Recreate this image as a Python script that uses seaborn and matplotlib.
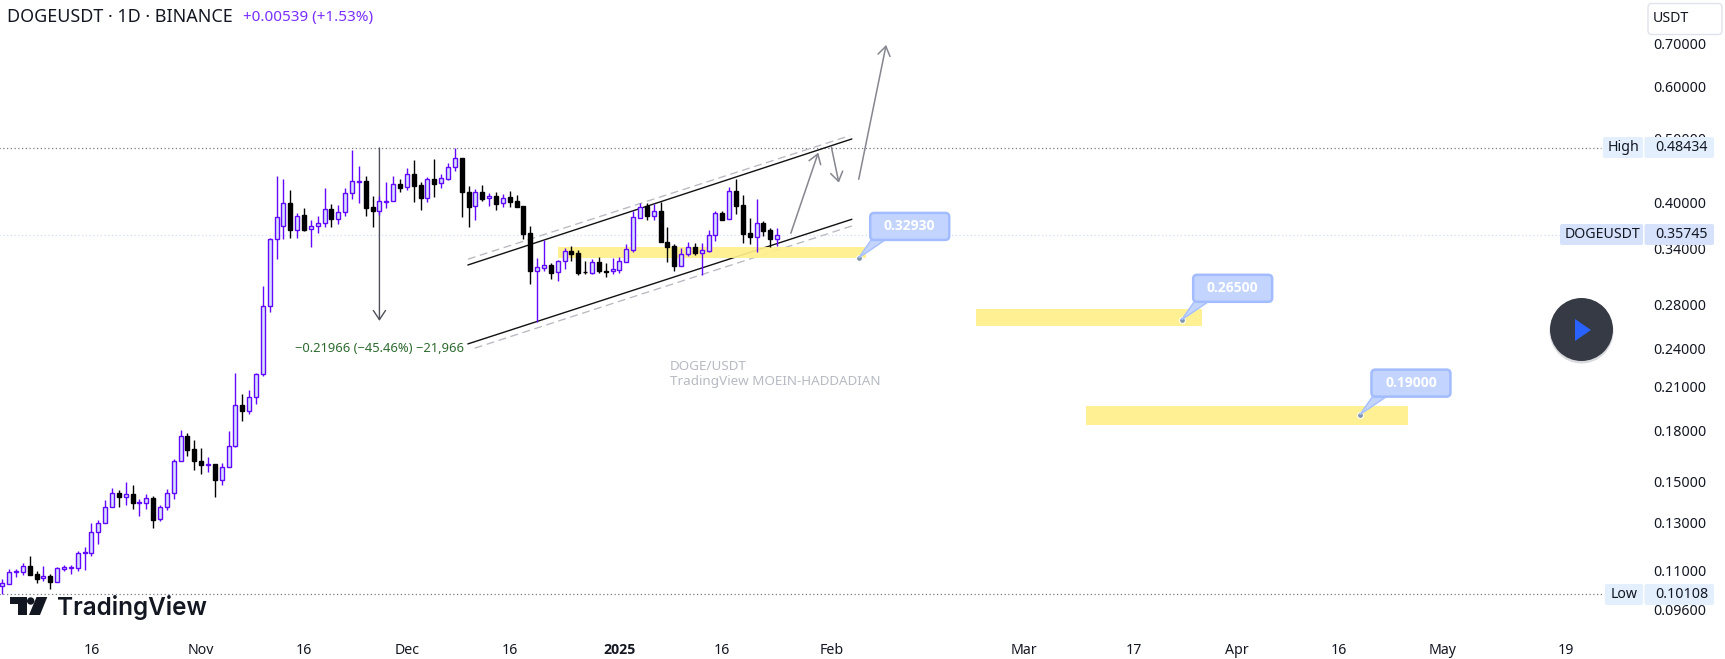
import numpy as np
import pandas as pd
import matplotlib
matplotlib.use("Agg")
import matplotlib.pyplot as plt
import seaborn as sns
from matplotlib.patches import Circle, FancyBboxPatch, Polygon

# daily DOGEUSDT candles
start_date = pd.Timestamp("2024-10-03")
opens = [.1043, .1050, .1093, .1092, .1116, .1085, .1069, .1079, .1057, .1107,
         .1111, .1111, .1168, .1171, .1257, .1298, .1373, .1442, .1423, .1437,
         .1395, .1395, .1417, .1316, .1373, .1441, .1614, .1761, .1682, .1614,
         .1594, .1596, .1513, .1579, .1699, .1964, .1925, .2019, .2190, .2780,
         .3517, .3677, .3989, .3630, .3825, .3639, .3681, .3719, .3908, .3780,
         .3868, .4133, .4300, .4315, .3935, .3876, .4008, .4018, .4265, .4219,
         .4423, .4249, .4070, .4341, .4280, .4351, .4527, .4673, .4148, .3948,
         .4148, .4065, .4090, .3989, .4075, .4018, .3953, .3590, .3140, .3183,
         .3209, .3129, .3255, .3375, .3352, .3136, .3118, .3244, .3143, .3143,
         .3161, .3251, .3390, .3794, .3953, .3821, .3881, .3480, .3431, .3205,
         .3333, .3419, .3356, .3378, .3565, .3853, .3772, .4162, .3962, .3590,
         .3549, .3721, .3628, .3524]
highs = [.1066, .1105, .1105, .1130, .1157, .1097, .1118, .1086, .1112, .1120,
         .1122, .1178, .1194, .1298, .1312, .1406, .1469, .1457, .1500, .1484,
         .1414, .1439, .1427, .1382, .1464, .1625, .1801, .1782, .1738, .1690,
         .1638, .1597, .1601, .1796, .2199, .2042, .2072, .2196, .2984, .3530,
         .4392, .4346, .4181, .3852, .3921, .3762, .3816, .4205, .3975, .3966,
         .4205, .4811, .4549, .4392, .4095, .4086, .4300, .4392, .4341, .4511,
         .4641, .4300, .4372, .4657, .4418, .4592, .4843, .4673, .4239, .4191,
         .4254, .4133, .4153, .4124, .4167, .4109, .3953, .3685, .3291, .3505,
         .3240, .3270, .3406, .3435, .3382, .3259, .3282, .3302, .3232, .3294,
         .3302, .3460, .3887, .3990, .3995, .3972, .4000, .3672, .3452, .3415,
         .3480, .3464, .3472, .3633, .3881, .3886, .4220, .4349, .4109, .3785,
         .4045, .3751, .3654, .3654]
lows = [.1013, .1050, .1076, .1083, .1083, .1053, .1061, .1031, .1057, .1096,
        .1086, .1096, .1102, .1157, .1206, .1298, .1373, .1375, .1384, .1365,
        .1333, .1365, .1275, .1310, .1360, .1414, .1614, .1644, .1565, .1544,
        .1554, .1424, .1485, .1579, .1693, .1858, .1903, .1973, .2172, .2728,
        .3283, .3525, .3537, .3537, .3613, .3416, .3588, .3672, .3664, .3703,
        .3821, .4056, .3998, .3821, .3664, .3830, .3930, .4018, .4153, .4172,
        .4013, .3890, .4013, .4080, .4210, .4326, .4474, .3807, .3664, .3767,
        .4027, .3953, .3890, .3939, .3939, .3935, .3520, .3006, .2632, .3150,
        .3060, .3042, .3169, .3259, .3096, .3107, .3114, .3125, .3075, .3107,
        .3125, .3251, .3367, .3785, .3768, .3764, .3476, .3244, .3150, .3205,
        .3310, .3329, .3103, .3367, .3500, .3764, .3772, .3844, .3472, .3460,
        .3367, .3557, .3423, .3431]
closes = [.1051, .1093, .1096, .1116, .1083, .1068, .1077, .1056, .1108, .1114,
          .1114, .1168, .1172, .1258, .1298, .1373, .1442, .1421, .1437, .1395,
          .1400, .1417, .1314, .1373, .1442, .1614, .1761, .1680, .1612, .1590,
          .1597, .1513, .1579, .1701, .1964, .1925, .2019, .2189, .2780, .3517,
          .3798, .3989, .3626, .3821, .3630, .3681, .3719, .3908, .3780, .3868,
          .4133, .4310, .4310, .3930, .3876, .4018, .4018, .4265, .4210, .4418,
          .4244, .4070, .4341, .4275, .4356, .4527, .4673, .4148, .3944, .4148,
          .4056, .4085, .3985, .4070, .4013, .3939, .3586, .3140, .3187, .3209,
          .3125, .3255, .3371, .3344, .3125, .3129, .3244, .3140, .3136, .3165,
          .3255, .3394, .3798, .3944, .3816, .3881, .3476, .3423, .3202, .3333,
          .3419, .3356, .3382, .3565, .3853, .3768, .4162, .3957, .3582, .3549,
          .3721, .3624, .3524, .3574]

# axis ticks
price_ticks = [.7, .6, .5, .4, .34, .28, .24, .21, .18, .15, .13, .11, .096]
tick_dates = ["2024-10-16", "2024-11-01", "2024-11-16", "2024-12-01", "2024-12-16",
              "2025-01-01", "2025-01-16", "2025-02-01", "2025-03-01", "2025-03-17",
              "2025-04-01", "2025-04-16", "2025-05-01", "2025-05-19"]
tick_labels = ["16", "Nov", "16", "Dec", "16", "2025", "16", "Feb", "Mar", "17", "Apr", "16", "May", "19"]

# horizontal levels
high_price = 0.48434
low_price = 0.10108
last_price = 0.35745

# drawings: bar number and price of both ends
upper_line = ([67.9, 123.9], [.3212, .4999])
lower_line = ([67.9, 123.9], [.2435, .3771])
upper_dash = ([67.9, 123.6], [.3278, .5057])
lower_dash = ([68.9, 124.5], [.2399, .3701])
drop_arrow = ([55, 55], [.4843, .2640])
path_arrows = [([115, 119], [.3591, .4764]),
               ([120.9, 122], [.4866, .4288]),
               ([124.9, 128.9], [.4340, .6953])]

# support zones: first bar, last bar, low, high
zone_starts = [81, 142, 158]
zone_ends = [126, 175, 205]
zone_lows = [.3293, .2597, .1833]
zone_highs = [.3422, .2754, .1961]

# target balloons
target_bars = [124.9, 172, 198]
target_prices = [.3293, .2650, .1900]
target_labels = ["0.32930", "0.26500", "0.19000"]

PURPLE = "#6208ff"
UP_FILL = "#d8e2ff"
TEXT = "#131722"
FIG_W, FIG_H = 1725, 659
AX_RIGHT, AX_BOTTOM = 1650, 632
FONT = "Noto Sans"

sns.set_style("white")
plt.rcParams["font.family"] = [FONT, "DejaVu Sans"]

df = pd.DataFrame({"bar": range(len(opens)), "open": opens, "high": highs, "low": lows, "close": closes})
df["direction"] = np.where(df["close"] >= df["open"], "up", "down")
df["top"] = df[["open", "close"]].max(axis=1)
df["bottom"] = df[["open", "close"]].min(axis=1)

fig = plt.figure(figsize=(FIG_W / 100, FIG_H / 100), dpi=100)
ax = fig.add_axes([0, 1 - AX_BOTTOM / FIG_H, AX_RIGHT / FIG_W, AX_BOTTOM / FIG_H])
ax.set_yscale("log")

# overlay in pixels for the price labels, the logo and the balloons
ov = fig.add_axes([0, 0, 1, 1], zorder=10)
ov.set_xlim(0, FIG_W)
ov.set_ylim(FIG_H, 0)
ov.axis("off")
ov.patch.set_alpha(0)

# wicks
wicks = df.melt(id_vars=["bar", "direction"], value_vars=["low", "high"], value_name="price")
sns.lineplot(data=wicks, x="bar", y="price", units="bar", estimator=None, hue="direction",
             palette={"up": PURPLE, "down": "black"}, linewidth=1.0, legend=False,
             ax=ax, zorder=4, solid_capstyle="butt")

# bodies
for direction, face, edge in [("up", UP_FILL, PURPLE), ("down", "black", "black")]:
    part = df[df["direction"] == direction]
    ax.bar(part["bar"], part["top"] - part["bottom"], bottom=part["bottom"], width=0.58,
           color=face, edgecolor=edge, linewidth=1.0, zorder=5)

# level lines
dotted = (0, (1, 2))
ax.plot([-1, 233.1], [high_price, high_price], color="#787b86", lw=0.9, ls=dotted, zorder=1)
ax.plot([-1, 233.5], [low_price, low_price], color="#787b86", lw=0.9, ls=dotted, zorder=1)
ax.plot([-1, 227.2], [last_price, last_price], color="#d3ddfb", lw=0.9, ls=dotted, zorder=1)

# channel
for xs, ys in [upper_line, lower_line]:
    ax.plot(xs, ys, color="#111111", lw=1.0, zorder=2)
for xs, ys in [upper_dash, lower_dash]:
    ax.plot(xs, ys, color="#b8bac2", lw=0.95, ls=(0, (6, 3.5)), zorder=2)

# yellow zones
for x0, x1, y0, y1 in zip(zone_starts, zone_ends, zone_lows, zone_highs):
    ax.fill_between([x0, x1], [y0, y0], [y1, y1], color="#fff08a", alpha=0.92, lw=0, zorder=3)

# arrows
arrow_head = "->,head_length=0.6,head_width=0.4"
ax.annotate("", xy=(drop_arrow[0][1], drop_arrow[1][1]), xytext=(drop_arrow[0][0], drop_arrow[1][0]),
            arrowprops=dict(arrowstyle=arrow_head, color="#4f505a", lw=1.0, shrinkA=0, shrinkB=0,
                            mutation_scale=11), zorder=3)
for xs, ys in path_arrows:
    ax.annotate("", xy=(xs[1], ys[1]), xytext=(xs[0], ys[0]),
                arrowprops=dict(arrowstyle=arrow_head, color="#85868f", lw=1.1, shrinkA=0, shrinkB=0,
                                mutation_scale=11), zorder=6)

# axes
ax.set_xlim(-0.335, 240.3)
ax.set_ylim(0.0886, 0.8141)
ax.minorticks_off()
ax.yaxis.tick_right()
ax.set_yticks(price_ticks)
ax.set_yticklabels([f"{p:.5f}" for p in price_ticks])
ax.yaxis.set_minor_locator(matplotlib.ticker.NullLocator())
ax.set_xticks([(pd.Timestamp(d) - start_date).days for d in tick_dates])
ax.set_xticklabels(tick_labels)
ax.tick_params(axis="y", length=0, pad=2.5, labelsize=10.2, labelcolor=TEXT)
ax.tick_params(axis="x", length=0, pad=8, labelsize=10.2, labelcolor=TEXT)
ax.set_xlabel("")
ax.set_ylabel("")
bold_tick = ax.get_xticklabels()[5]
bold_tick.set_family("Open Sans")
bold_tick.set_fontweight("bold")
for spine in ax.spines.values():
    spine.set_visible(False)

# target balloons
fig.canvas.draw()
for bar, price, label in zip(target_bars, target_prices, target_labels):
    tip_x, tip_y = ov.transData.inverted().transform(ax.transData.transform((bar, price)))
    left, top = tip_x + 11.5, tip_y - 45
    tail = Polygon([(tip_x, tip_y), (left + 1, top + 27), (left + 15, top + 27)], closed=True,
                   facecolor="#c3d4ff", edgecolor="#a6bfff", lw=1)
    ov.add_patch(tail)
    box = FancyBboxPatch((left, top), 79, 27, boxstyle="round,pad=0,rounding_size=4",
                         facecolor="#c3d4ff", edgecolor="#a3bcff", lw=1.8)
    ov.add_patch(box)
    ov.text(left + 39.5, top + 13, label, color="white", fontsize=10, fontweight="bold",
            family="Open Sans", ha="center", va="center")
dots = pd.DataFrame({"bar": target_bars, "price": target_prices})
sns.scatterplot(data=dots, x="bar", y="price", s=18, color="#7f95a8", edgecolor="white",
                linewidth=0.8, ax=ax, zorder=8, clip_on=False)
ax.set_xlabel("")
ax.set_ylabel("")

# right side price labels
def price_tag(left, right, top, bottom, color, text, text_x):
    ov.add_patch(FancyBboxPatch((left, top), right - left, bottom - top,
                                boxstyle="round,pad=0,rounding_size=2", facecolor=color, edgecolor="none"))
    ov.text(text_x, (top + bottom) / 2, text, color=TEXT, fontsize=10.2, ha="left", va="center")


price_tag(1603, 1643, 137, 158, "#e3effd", "High", 1607.5)
price_tag(1644.5, 1714, 137, 158, "#e3effd", f"{high_price:.5f}", 1655)
price_tag(1560, 1643, 224, 245, "#d6e2fb", "DOGEUSDT", 1565)
price_tag(1644.5, 1714, 224, 245, "#d6e2fb", f"{last_price:.5f}", 1655)
price_tag(1605, 1643, 584, 605, "#e3effd", "Low", 1610.5)
price_tag(1644.5, 1714, 584, 605, "#e3effd", f"{low_price:.5f}", 1655)

# currency button
ov.add_patch(FancyBboxPatch((1648, 3.5), 74, 31, boxstyle="round,pad=0,rounding_size=4",
                            facecolor="white", edgecolor="#e0e3eb", lw=1))
ov.text(1653, 19, "USDT", color=TEXT, fontsize=10.2, ha="left", va="center")

# play button
ov.add_patch(Circle((1581.5, 331.5), 32, facecolor="#d9dadd", edgecolor="none"))
ov.add_patch(Circle((1581.5, 329.5), 31.5, facecolor="#363a45", edgecolor="none"))
ov.add_patch(Polygon([(1575, 319), (1591, 330), (1575, 341)], closed=True, facecolor="#2962ff", edgecolor="none"))

# header
ov.text(7, 17, "DOGEUSDT · 1D · BINANCE", color=TEXT, fontsize=12.9, ha="left", va="center")
ov.text(243, 17, "+0.00539 (+1.53%)", color="#7a2eff", fontsize=11, ha="left", va="center")

# measure label and watermark
ov.text(464, 349, "−0.21966 (−45.46%) −21,966", color="#2d6a2f", fontsize=9.3, ha="right", va="center")
ov.text(670, 367, "DOGE/USDT", color="#b7bac3", fontsize=9.7, ha="left", va="center")
ov.text(670, 381, "TradingView MOEIN-HADDADIAN", color="#b7bac3", fontsize=9.7, ha="left", va="center")

# TradingView logo
logo = "#131722"
ov.add_patch(Polygon([(10, 597), (27, 597), (27, 615), (17.5, 615), (17.5, 604), (10, 604)], closed=True, facecolor=logo, edgecolor="none"))
ov.add_patch(Circle((30.7, 601), 3.7, facecolor=logo, edgecolor="none"))
ov.add_patch(Polygon([(36.5, 597), (47.3, 597), (40, 615), (29, 615)], closed=True, facecolor=logo, edgecolor="none"))
ov.text(57, 608, "TradingView", color=logo, fontsize=17.5, fontweight="semibold", family="Inter", ha="left", va="center")

fig.savefig("out.png", dpi=100)
